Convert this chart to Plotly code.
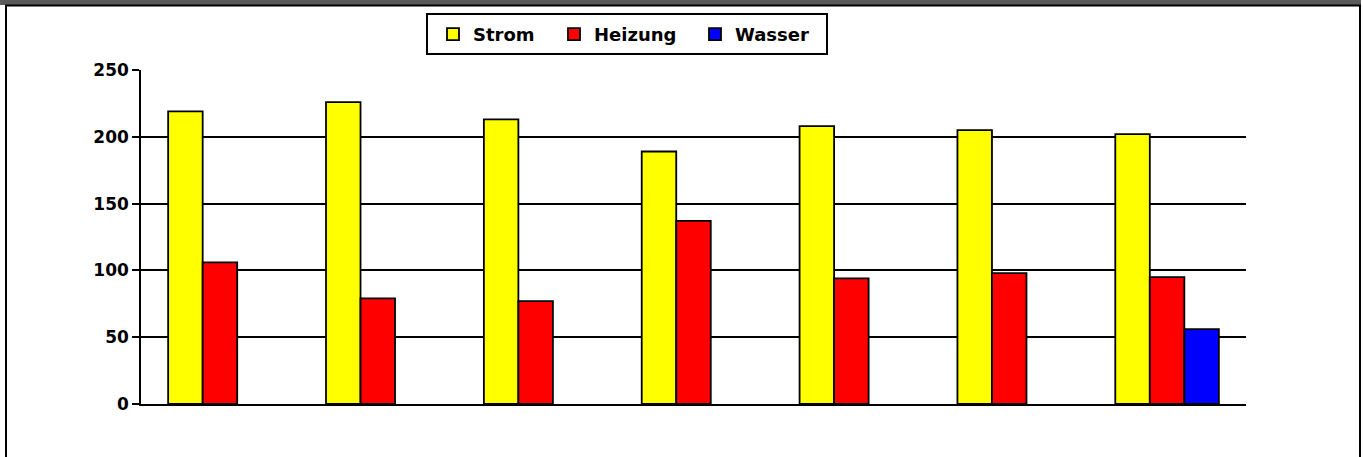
import plotly.graph_objects as go

# ---- data ----
categories = ["1", "2", "3", "4", "5", "6", "7"]
strom = [219, 226, 213, 189, 208, 205, 202]
heizung = [106, 79, 77, 137, 94, 98, 95]
wasser = [None, None, None, None, None, None, 56]
series_names = ["Strom", "Heizung", "Wasser"]
series_colors = ["#FFFF00", "#FF0000", "#0000FF"]
y_ticks = [0, 50, 100, 150, 200, 250]

# ---- layout geometry (pixels) ----
W, H = 1363, 457
ML, MR, MT, MB = 141, 117, 70, 53
PW = W - ML - MR
PH = H - MT - MB


def px_x(px):
    return (px - ML) / PW


def px_y(py):
    return (H - MB - py) / PH


font_fam = "DejaVu Sans"
legend_ids = ["legend", "legend2", "legend3"]
legend_left_px = [433, 554, 695]

fig = go.Figure()
for name, vals, col, lid in zip(series_names, [strom, heizung, wasser], series_colors, legend_ids):
    fig.add_trace(go.Bar(
        name=name, x=categories, y=vals,
        marker=dict(color=col, line=dict(color="black", width=1.8)),
        legend=lid,
    ))

legend_common = dict(
    orientation="h", xanchor="left", yanchor="top",
    bgcolor="rgba(0,0,0,0)", borderwidth=0,
    font=dict(family=font_fam, size=18, color="black", weight="bold"),
    itemwidth=30,
)
legends = {}
for lid, lx in zip(legend_ids, legend_left_px):
    legends[lid] = dict(legend_common, x=px_x(lx), y=px_y(16))

fig.update_layout(
    width=W, height=H,
    margin=dict(l=ML, r=MR, t=MT, b=MB, pad=0),
    paper_bgcolor="white", plot_bgcolor="white",
    barmode="group", bargap=0.344, bargroupgap=0,
    showlegend=True,
    xaxis=dict(
        showticklabels=False, ticks="", showgrid=False,
        showline=True, linecolor="black", linewidth=1.6,
        zeroline=False,
    ),
    yaxis=dict(
        range=[0, 250], tickvals=y_ticks,
        ticks="outside", ticklen=7, tickwidth=1.6, tickcolor="black",
        showgrid=True, gridcolor="black", gridwidth=1.6,
        showline=True, linecolor="black", linewidth=1.6,
        zeroline=False,
        tickfont=dict(family=font_fam, size=17, color="black", weight="bold"),
    ),
    shapes=[
        # dark header band
        dict(type="rect", xref="paper", yref="paper",
             x0=px_x(0), x1=px_x(1361), y0=px_y(5), y1=px_y(0),
             fillcolor="#5a5a5a", line=dict(width=0), layer="below"),
        # chart frame
        dict(type="rect", xref="paper", yref="paper",
             x0=px_x(6), x1=px_x(1360), y0=px_y(470), y1=px_y(5.5),
             fillcolor="rgba(0,0,0,0)", line=dict(color="black", width=2),
             layer="below"),
        # legend box
        dict(type="rect", xref="paper", yref="paper",
             x0=px_x(427), x1=px_x(827), y0=px_y(54), y1=px_y(14),
             fillcolor="white", line=dict(color="black", width=2),
             layer="below"),
    ],
    **legends,
)

fig.write_html("out.html", config={"displayModeBar": False},
               post_script="document.body.style.margin='0';")
